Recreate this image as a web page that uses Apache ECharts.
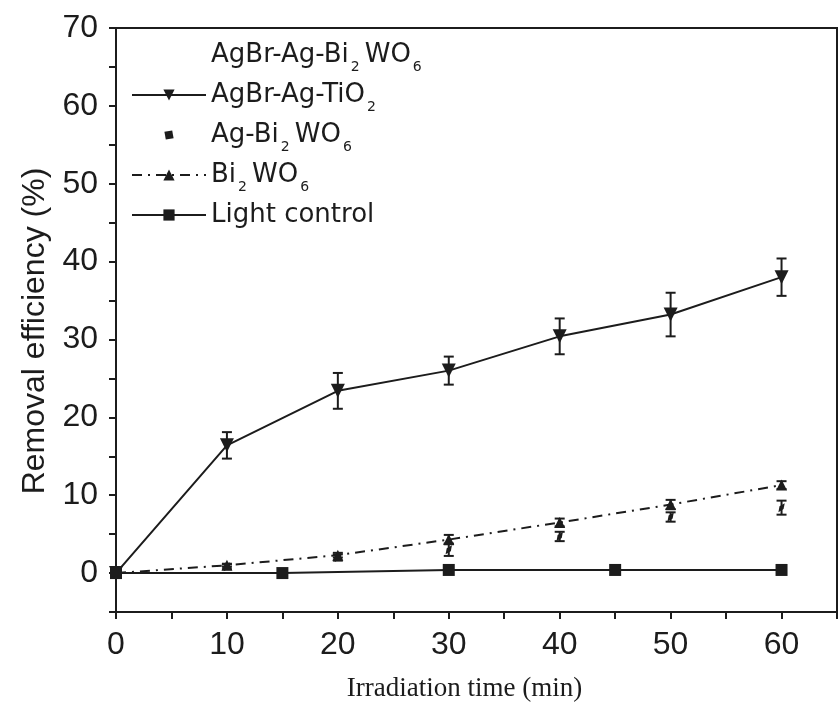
<!DOCTYPE html>
<html>
<head>
<meta charset="utf-8">
<script src="https://cdn.jsdelivr.net/npm/echarts@6/dist/echarts.min.js"></script>
<style>
  html, body { margin: 0; padding: 0; background: #fff; }
  #main { width: 840px; height: 707px; }
</style>
</head>
<body>
<div id="main"></div>
<script>
// irradiation time (min)
const times = [0, 10, 20, 30, 40, 50, 60];
const lightTimes = [0, 15, 30, 45, 60];

// removal efficiency (%)
const tio2 = [0, 16.4, 23.4, 26.0, 30.4, 33.2, 38.0];
const tio2Err = [0, 1.7, 2.3, 1.8, 2.3, 2.8, 2.4];
const agBi = [0, 0.8, 2.0, 3.0, 4.7, 7.2, 8.4];
const agBiErr = [0, 0.3, 0.4, 0.8, 0.6, 0.6, 0.9];
const bi = [0, 1.0, 2.3, 4.3, 6.5, 8.8, 11.3];
const biErr = [0, 0.2, 0.3, 0.6, 0.5, 0.6, 0.5];
const light = [0, 0, 0.4, 0.4, 0.4];

const names = ['AgBr-Ag-Bi2WO6', 'AgBr-Ag-TiO2', 'Ag-Bi2WO6', 'Bi2WO6', 'Light control'];
const legendText = [
  '{n|AgBr-Ag-Bi}{s|2}{n|WO}{s|6}',
  '{n|AgBr-Ag-TiO}{s|2}',
  '{n|Ag-Bi}{s|2}{n|WO}{s|6}',
  '{n|Bi}{s|2}{n|WO}{s|6}',
  '{n|Light control}{s| }'
];

const ink = '#1c1c1c';

function pairs(xs, ys) {
  return xs.map((x, i) => [x, ys[i]]);
}

function errData(ys, es) {
  return times.map((t, i) => [t, ys[i] - es[i], ys[i] + es[i]]).filter(d => d[2] - d[1] > 0);
}

function errorBars(api) {
  const lo = api.coord([api.value(0), api.value(1)]);
  const hi = api.coord([api.value(0), api.value(2)]);
  const w = 5;
  const style = { stroke: ink, lineWidth: 2 };
  return {
    type: 'group',
    children: [
      { type: 'line', shape: { x1: lo[0], y1: lo[1], x2: hi[0], y2: hi[1] }, style: style },
      { type: 'line', shape: { x1: lo[0] - w, y1: lo[1], x2: lo[0] + w, y2: lo[1] }, style: style },
      { type: 'line', shape: { x1: hi[0] - w, y1: hi[1], x2: hi[0] + w, y2: hi[1] }, style: style }
    ]
  };
}

const chart = echarts.init(document.getElementById('main'));

chart.setOption({
  backgroundColor: '#fff',
  animation: false,
  grid: {
    left: 116, top: 28, width: 731, height: 585,
    show: true, borderColor: ink, borderWidth: 2
  },
  legend: {
    orient: 'vertical',
    left: 126, top: 29,
    itemWidth: 74, itemHeight: 14, itemGap: 0,
    data: names.map((n, i) => (i === 0 ? { name: n, icon: 'none' } : { name: n })),
    formatter: name => legendText[names.indexOf(name)],
    textStyle: {
      color: ink,
      rich: {
        n: { fontFamily: 'DejaVu Sans', fontSize: 26, color: ink, lineHeight: 38 },
        s: { fontFamily: 'DejaVu Sans', fontSize: 14, color: ink, lineHeight: 12, verticalAlign: 'bottom', padding: [26, 5, 0, 2] }
      }
    }
  },
  xAxis: {
    type: 'value',
    min: 0, max: 65, interval: 5,
    name: 'Irradiation time (min)',
    nameLocation: 'middle', nameGap: 63,
    nameTextStyle: { fontFamily: 'Liberation Serif', fontSize: 27, color: ink, padding: [0, 24, 0, 0] },
    axisLine: { onZero: false, lineStyle: { color: ink, width: 2 } },
    axisTick: { inside: false, length: 7, lineStyle: { color: ink, width: 2 } },
    axisLabel: {
      fontFamily: 'Liberation Sans', fontSize: 32, color: ink, margin: 17,
      formatter: v => (v % 10 === 0 && v <= 60 ? String(v) : '')
    },
    splitLine: { show: false }
  },
  yAxis: {
    type: 'value',
    min: -5, max: 70, interval: 5,
    name: 'Removal efficiency (%)',
    nameLocation: 'middle', nameGap: 62, nameRotate: 90,
    nameTextStyle: { fontFamily: 'Liberation Sans', fontSize: 32, color: ink, padding: [0, 22, 0, 0] },
    axisLine: { onZero: false, lineStyle: { color: ink, width: 2 } },
    axisTick: { inside: false, length: 7, lineStyle: { color: ink, width: 2 } },
    axisLabel: {
      fontFamily: 'Liberation Sans', fontSize: 32, color: ink, margin: 18,
      formatter: v => (v >= 0 && v % 10 === 0 ? String(v) : '')
    },
    splitLine: { show: false }
  },
  series: [
    {
      name: names[0], type: 'line', data: [],
      symbol: 'none', lineStyle: { opacity: 0 }, itemStyle: { color: ink }
    },
    {
      name: names[1], type: 'line', data: pairs(times, tio2),
      symbol: 'triangle', symbolRotate: 180, symbolSize: 14,
      itemStyle: { color: ink }, lineStyle: { color: ink, width: 2 }, z: 4
    },
    {
      name: names[2], type: 'line', data: pairs(times, agBi),
      symbol: 'diamond', symbolSize: [5, 11], symbolRotate: -35,
      itemStyle: { color: ink }, lineStyle: { color: ink, width: 0, opacity: 0 }, z: 3
    },
    {
      name: names[3], type: 'line', data: pairs(times, bi),
      symbol: 'triangle', symbolSize: 11,
      itemStyle: { color: ink },
      lineStyle: { color: ink, width: 2, type: [10, 6, 2, 6] }, z: 3
    },
    {
      name: names[4], type: 'line', data: pairs(lightTimes, light),
      symbol: 'rect', symbolSize: 12,
      itemStyle: { color: ink }, lineStyle: { color: ink, width: 2 }, z: 3
    },
    {
      type: 'custom', data: errData(tio2, tio2Err), renderItem: (p, api) => errorBars(api), z: 2, silent: true
    },
    {
      type: 'custom', data: errData(agBi, agBiErr), renderItem: (p, api) => errorBars(api), z: 2, silent: true
    },
    {
      type: 'custom', data: errData(bi, biErr), renderItem: (p, api) => errorBars(api), z: 2, silent: true
    }
  ]
});
</script>
</body>
</html>
